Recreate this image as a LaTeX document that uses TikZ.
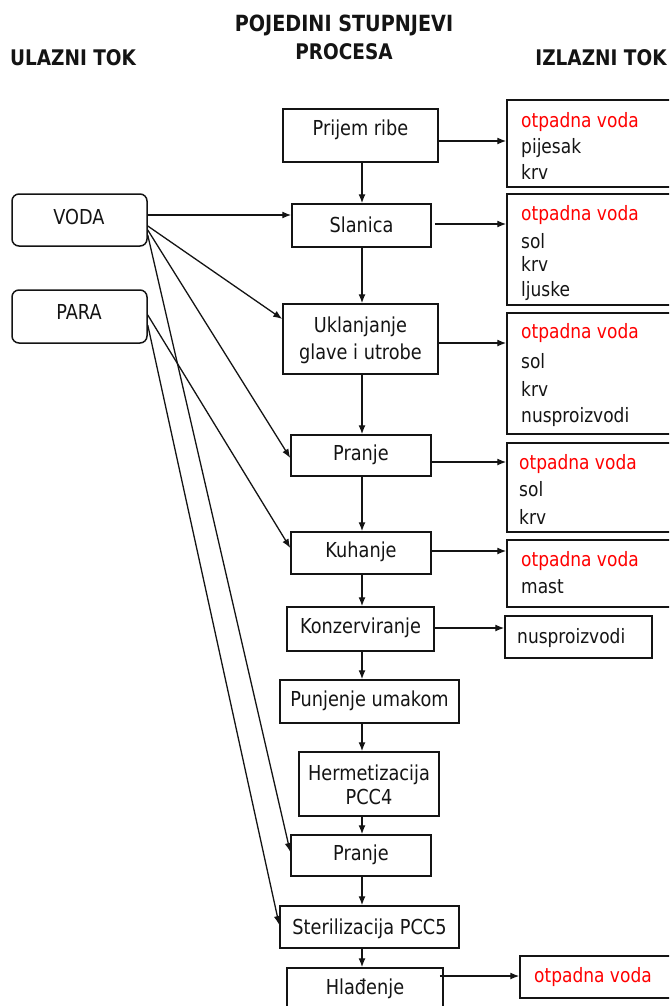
\documentclass[tikz,border=0pt]{standalone}
\usepackage{fontspec}
\setmainfont{DejaVu Sans}[FakeStretch=0.86]
\usetikzlibrary{arrows.meta}
\definecolor{waste}{RGB}{255,0,0}
\definecolor{ink}{RGB}{20,20,20}
\begin{document}
\begin{tikzpicture}[x=1pt,y=-1pt,
  box/.style={draw=ink, line width=1.5pt, rectangle, inner sep=0pt},
  inbox/.style={box, rounded corners=7pt},
  lbl/.style={font=\fontsize{20.6}{28}\selectfont, inner sep=0pt, anchor=base, yshift=-7.3pt, text=ink},
  mlbl/.style={font=\fontsize{20.6}{27}\selectfont, inner sep=0pt, align=center, text=ink},
  olbl/.style={font=\fontsize{19.8}{23}\selectfont, inner sep=0pt, anchor=base west, yshift=-6.3pt, text=ink},
  rlbl/.style={olbl, text=waste},
  ttl/.style={font=\fontsize{21.5}{26}\selectfont\bfseries, inner sep=0pt, anchor=base, yshift=-7.5pt, text=ink},
  arr/.style={-{Latex[length=9pt,width=7pt]}, line width=1.3pt, draw=ink},
]
\useasboundingbox (0,0) rectangle (669,1006);
\clip (0,0) rectangle (669,1006);

% titles
\node[ttl, font=\fontsize{22.3}{26}\selectfont\bfseries] (h1) at (344,24) {POJEDINI STUPNJEVI};
\node[ttl] (h2) at (344,52) {PROCESA};
\node[ttl] (h3) at (73,58) {ULAZNI TOK};
\node[ttl] (h4) at (601,58) {IZLAZNI TOK};

% input boxes
\node[inbox, minimum width=135pt, minimum height=52pt] (voda) at (79.5,220) {};
\node[lbl] (tvoda) at (79,217) {VODA};
\node[inbox, minimum width=135pt, minimum height=53pt] (para) at (79.5,316.5) {};
\node[lbl] (tpara) at (79,312) {PARA};

% process boxes
\node[box, minimum width=155pt, minimum height=53pt] (p1) at (360.5,135.5) {};
\node[lbl] (t1) at (360.5,128) {Prijem ribe};
\node[box, minimum width=139pt, minimum height=43pt] (p2) at (361.5,225.5) {};
\node[lbl] (t2) at (361.5,225) {Slanica};
\node[box, minimum width=155pt, minimum height=70pt] (p3) at (360.5,339) {};
\node[mlbl] (t3) at (360.5,340) {Uklanjanje\\glave i utrobe};
\node[box, minimum width=140pt, minimum height=41pt] (p4) at (361,455.5) {};
\node[lbl] (t4) at (361,453) {Pranje};
\node[box, minimum width=140pt, minimum height=42pt] (p5) at (361,553) {};
\node[lbl] (t5) at (361,550) {Kuhanje};
\node[box, minimum width=147pt, minimum height=44pt] (p6) at (360.5,629) {};
\node[lbl] (t6) at (360.5,626) {Konzerviranje};
\node[box, minimum width=179pt, minimum height=43pt] (p7) at (369.5,701.5) {};
\node[lbl] (t7) at (369.5,699) {Punjenje umakom};
\node[box, minimum width=140pt, minimum height=64pt] (p8) at (369,784) {};
\node[mlbl, font=\fontsize{20.6}{24}\selectfont] (t8) at (369,785) {Hermetizacija\\PCC4};
\node[box, minimum width=140pt, minimum height=41pt] (p9) at (361,855.5) {};
\node[lbl] (t9) at (361,853) {Pranje};
\node[box, minimum width=179pt, minimum height=42pt] (p10) at (369.5,927) {};
\node[lbl] (t10) at (369.5,927) {Sterilizacija PCC5};
\node[box, minimum width=156pt, minimum height=52pt] (p11) at (365,994) {};
\node[lbl] (t11) at (365,987) {Hla\dj enje};

% output boxes
\node[box, minimum width=173pt, minimum height=87pt] (o1) at (593.5,143.5) {};
\node[rlbl] (o1a) at (521,121) {otpadna voda};
\node[olbl] (o1b) at (521,147) {pijesak};
\node[olbl] (o1c) at (521,173) {krv};

\node[box, minimum width=173pt, minimum height=111pt] (o2) at (593.5,249.5) {};
\node[rlbl] (o2a) at (521,214) {otpadna voda};
\node[olbl] (o2b) at (521,242) {sol};
\node[olbl] (o2c) at (521,265) {krv};
\node[olbl] (o2d) at (521,290) {ljuske};

\node[box, minimum width=173pt, minimum height=121pt] (o3) at (593.5,373.5) {};
\node[rlbl] (o3a) at (521,332) {otpadna voda};
\node[olbl] (o3b) at (521,362) {sol};
\node[olbl] (o3c) at (521,390) {krv};
\node[olbl] (o3d) at (521,416) {nusproizvodi};

\node[box, minimum width=173pt, minimum height=89pt] (o4) at (593.5,487.5) {};
\node[rlbl] (o4a) at (519,463) {otpadna voda};
\node[olbl] (o4b) at (519,490) {sol};
\node[olbl] (o4c) at (519,518) {krv};

\node[box, minimum width=173pt, minimum height=67pt] (o5) at (593.5,573.5) {};
\node[rlbl] (o5a) at (521,560) {otpadna voda};
\node[olbl] (o5b) at (521,587) {mast};

\node[box, minimum width=147pt, minimum height=42pt] (o6) at (578.5,637) {};
\node[olbl] (o6a) at (517,637) {nusproizvodi};

\node[box, minimum width=160pt, minimum height=42pt] (o7) at (600,977) {};
\node[rlbl] (o7a) at (534,976) {otpadna voda};

% main flow
\coordinate (ax) at (362,0);
\draw[arr] (p1.south -| ax) -- (p2.north -| ax);
\draw[arr] (p2.south -| ax) -- (p3.north -| ax);
\draw[arr] (p3.south -| ax) -- (p4.north -| ax);
\draw[arr] (p4.south -| ax) -- (p5.north -| ax);
\draw[arr] (p5.south -| ax) -- (p6.north -| ax);
\draw[arr] (p6.south -| ax) -- (p7.north -| ax);
\draw[arr] (p7.south -| ax) -- (p8.north -| ax);
\draw[arr] (p8.south -| ax) -- (p9.north -| ax);
\draw[arr] (p9.south -| ax) -- (p10.north -| ax);
\draw[arr] (p10.south -| ax) -- (p11.north -| ax);

% outputs
\coordinate (a1) at ([yshift=-5.5pt]p1.east);
\draw[arr] (a1) -- (a1 -| o1.west);
\coordinate (a2) at ([xshift=3pt,yshift=1.5pt]p2.east);
\draw[arr] (a2) -- (a2 -| o2.west);
\coordinate (a3) at ([yshift=-4pt]p3.east);
\draw[arr] (a3) -- (a3 -| o3.west);
\coordinate (a4) at ([yshift=-6.5pt]p4.east);
\draw[arr] (a4) -- (a4 -| o4.west);
\coordinate (a5) at ([yshift=2pt]p5.east);
\draw[arr] (a5) -- (a5 -| o5.west);
\coordinate (a6) at ([yshift=1pt]p6.east);
\draw[arr] (a6) -- (a6 -| o6.west);
\coordinate (a11) at ([xshift=-4pt,yshift=18pt]p11.east);
\draw[arr] (a11) -- (a11 -| o7.west);

% inputs
\coordinate (v0) at ([yshift=5pt]voda.east);
\draw[arr] (v0) -- (v0 -| p2.west);
\draw[arr] ([yshift=-6pt]voda.east) -- ([yshift=20pt]p3.west);
\draw[arr] ([yshift=-10pt]voda.east) -- ([yshift=-2.5pt]p4.west);
\draw[arr] ([yshift=-15pt]voda.east) -- ([yshift=3.5pt]p9.west);
\draw[arr] ([yshift=1.5pt]para.east) -- ([yshift=5pt]p5.west);
\draw[arr] ([yshift=-8.5pt]para.east) -- ([yshift=2pt]p10.west);
\end{tikzpicture}
\end{document}
